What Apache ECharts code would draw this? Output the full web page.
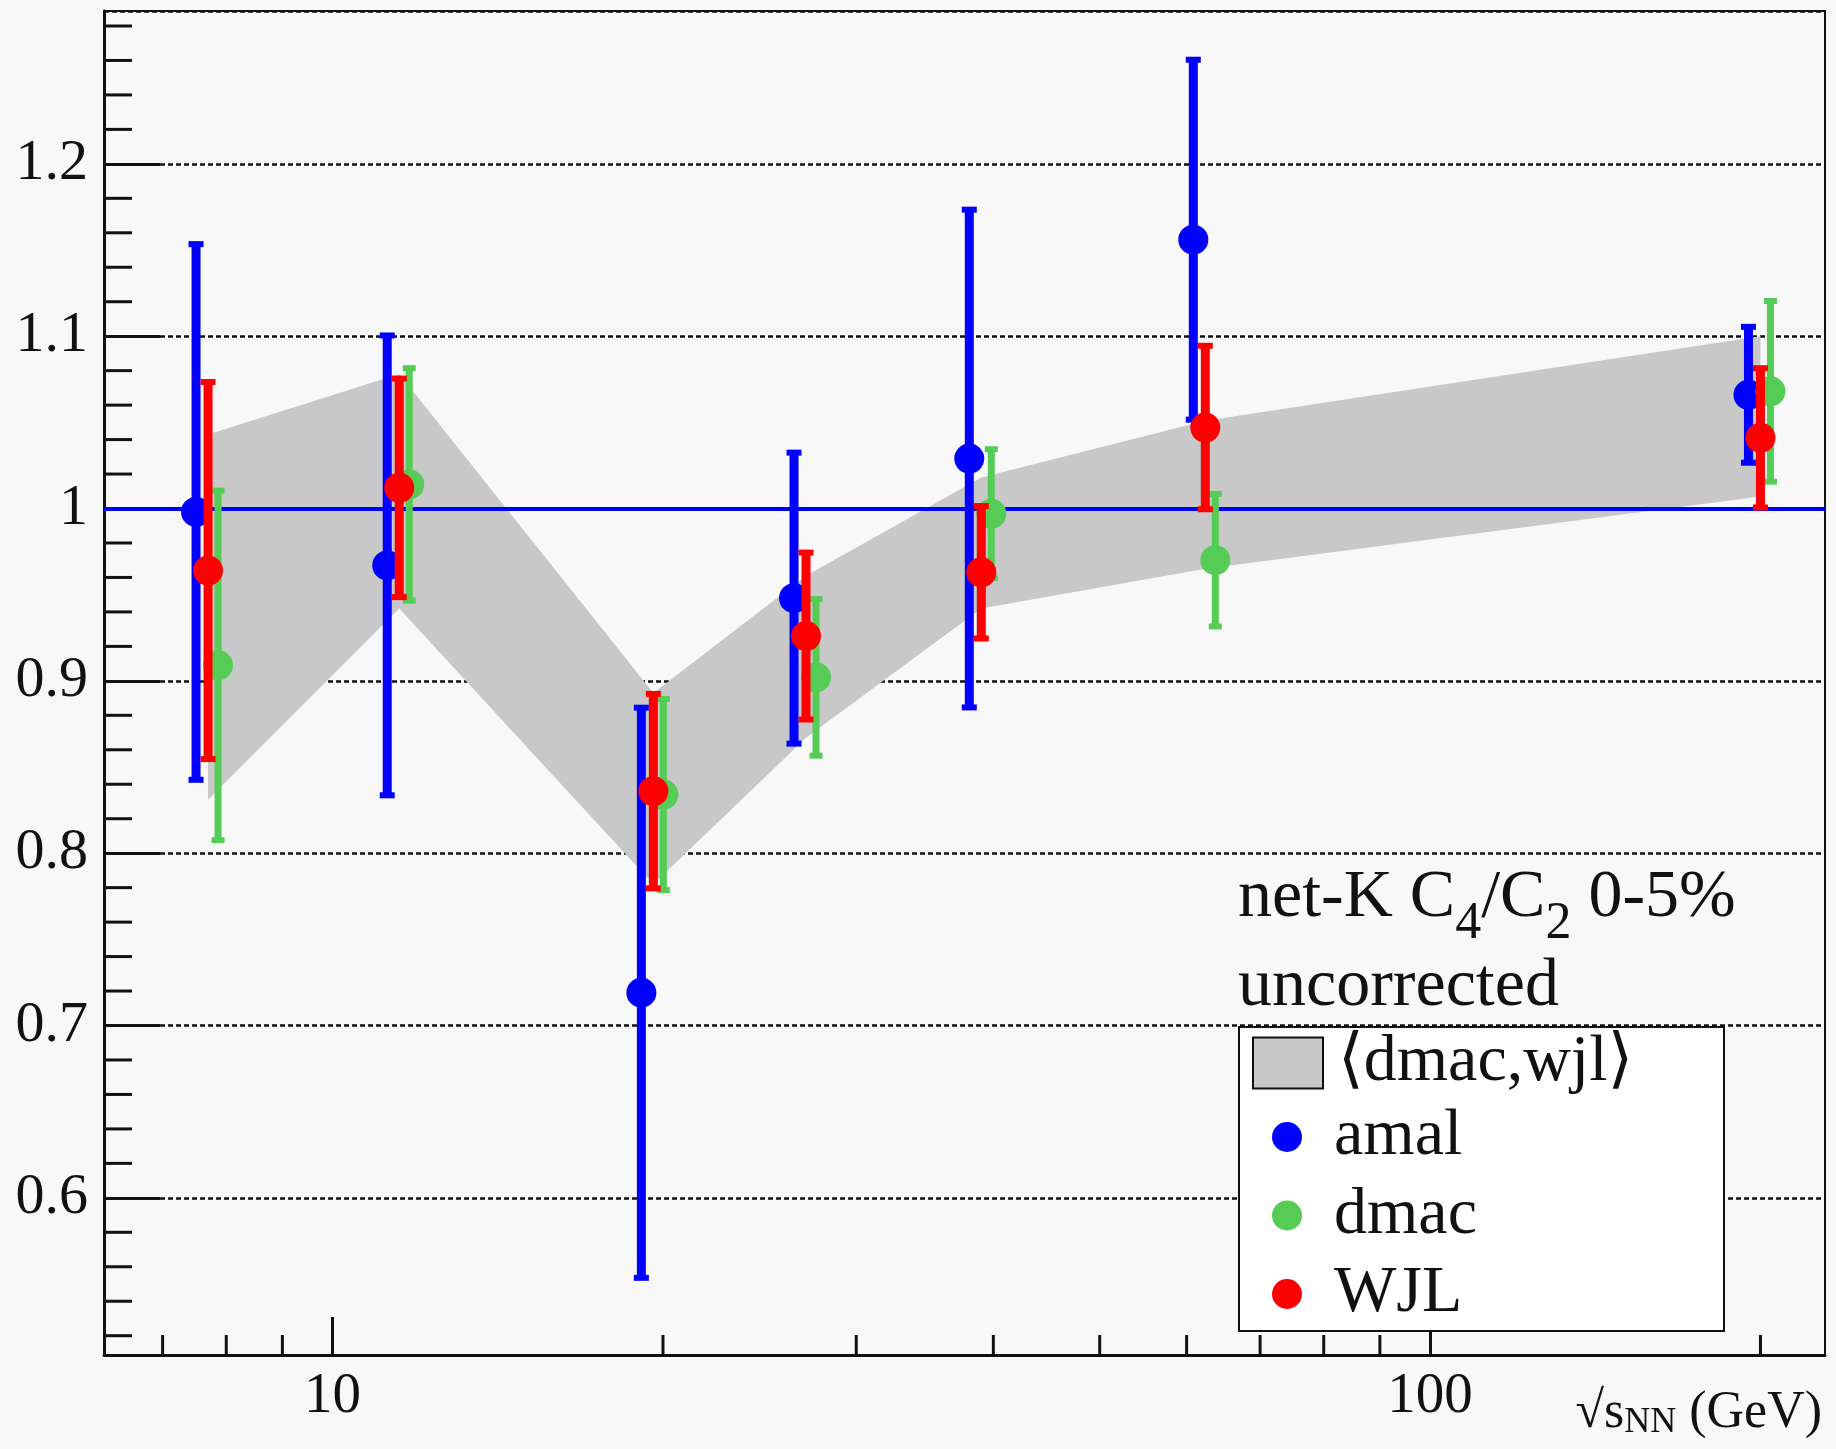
<!DOCTYPE html>
<html>
<head>
<meta charset="utf-8">
<title>net-K C4/C2 0-5%</title>
<script src="https://cdn.jsdelivr.net/npm/echarts@6/dist/echarts.min.js"></script>
<style>
  html, body { margin: 0; padding: 0; background: #f8f8f8; }
  #main { width: 1836px; height: 1449px; }
</style>
</head>
<body>
<div id="main"></div>
<script>
// beam energies, sqrt(s_NN) in GeV
var energies = [7.7, 11.5, 19.6, 27, 39, 62.4, 200];

// C4/C2 per analysis, symmetric errors
var amal    = [0.998, 0.967, 0.719, 0.948, 1.029, 1.156, 1.066];
var amalErr = [0.156, 0.134, 0.166, 0.085, 0.145, 0.105, 0.040];
var dmac    = [0.909, 1.014, 0.834, 0.902, 0.997, 0.970, 1.068];
var dmacErr = [0.102, 0.068, 0.056, 0.046, 0.038, 0.039, 0.053];
var wjl     = [0.964, 1.012, 0.836, 0.926, 0.963, 1.047, 1.041];
var wjlErr  = [0.110, 0.064, 0.057, 0.049, 0.039, 0.048, 0.041];

// <dmac,wjl> band edges
var bandUpper = [1.043, 1.078, 0.893, 0.961, 1.018, 1.051, 1.100];
var bandLower = [0.831, 0.942, 0.782, 0.867, 0.942, 0.965, 1.007];

// minor ticks (majors come from the axes)
var xMinorTicks = [7, 8, 9, 20, 30, 40, 50, 60, 70, 80, 90, 200];
var yMinorTicks = [];
for (var t = 52; t <= 128; t += 2) {
    if (t % 10 !== 0) yMinorTicks.push(t / 100);
}

var FONT = "'Liberation Serif', 'DejaVu Serif', serif";
var X_MIN = 6.19, X_MAX = 229;
var Y_MIN = 0.5088, Y_MAX = 1.2887;

var chart = echarts.init(document.getElementById('main'));

// vertical error bar with small end caps, shifted sideways by a few px
function errorBars(vals, errs, color, width, shift, z) {
    return {
        type: 'custom', z: z, silent: true,
        data: energies.map(function (e, i) { return [e, vals[i], vals[i] - errs[i], vals[i] + errs[i]]; }),
        encode: { x: 0, y: 1 },
        renderItem: function (params, api) {
            var lo = api.coord([api.value(0), api.value(2)]);
            var hi = api.coord([api.value(0), api.value(3)]);
            var x = lo[0] + shift;
            var capW = width + 6;
            return {
                type: 'group',
                children: [
                    { type: 'rect', shape: { x: x - width / 2, y: hi[1], width: width, height: lo[1] - hi[1] }, style: { fill: color } },
                    { type: 'rect', shape: { x: x - capW / 2, y: hi[1] - 2, width: capW, height: 6 }, style: { fill: color } },
                    { type: 'rect', shape: { x: x - capW / 2, y: lo[1] - 4, width: capW, height: 6 }, style: { fill: color } }
                ]
            };
        }
    };
}

function points(name, vals, color, shift, z) {
    return {
        name: name, type: 'scatter', z: z,
        data: energies.map(function (e, i) { return [e, vals[i]]; }),
        symbol: 'circle', symbolSize: 30, symbolOffset: [shift, 0],
        itemStyle: { color: color, opacity: 1 },
        emphasis: { disabled: true }
    };
}

function ticks(data, horizontal, len) {
    return {
        type: 'custom', z: 20, silent: true,
        data: data,
        renderItem: function (params, api) {
            var p = api.coord([api.value(0), api.value(1)]);
            return {
                type: 'line',
                shape: { x1: p[0], y1: p[1], x2: horizontal ? p[0] + len : p[0], y2: horizontal ? p[1] : p[1] - len },
                style: { stroke: '#111', lineWidth: 3 }
            };
        }
    };
}

var legendText = { fontFamily: FONT, fontSize: 66, color: '#111', lineHeight: 50 };

chart.setOption({
    animation: false,
    backgroundColor: '#f8f8f8',
    grid: { left: 104, right: 11, top: 11, bottom: 94, show: true, borderColor: '#111', borderWidth: 2 },
    xAxis: {
        type: 'log', logBase: 10, min: X_MIN, max: X_MAX,
        axisLine: { onZero: false, lineStyle: { color: '#111', width: 3 } },
        axisTick: { inside: true, length: 38, lineStyle: { color: '#111', width: 3 } },
        axisLabel: { color: '#111', fontFamily: FONT, fontSize: 57, margin: 14, showMinLabel: false, showMaxLabel: false },
        splitLine: { show: false }
    },
    yAxis: {
        type: 'value', min: Y_MIN, max: Y_MAX, splitNumber: 8,
        axisLine: { show: true, lineStyle: { color: '#111', width: 3 } },
        axisTick: { show: true, inside: true, length: 56, lineStyle: { color: '#111', width: 3 } },
        axisLabel: {
            color: '#111', fontFamily: FONT, fontSize: 58, margin: 16, showMinLabel: false, showMaxLabel: false,
            formatter: function (v) { return Math.abs(v - 1) < 1e-6 ? '1' : v.toFixed(1); }
        },
        splitLine: { show: true, lineStyle: { color: '#111', width: 2.5, type: [5, 3] } }
    },
    legend: [
        {
            data: [{ name: '⟨dmac,wjl⟩', icon: 'rect', itemStyle: { color: '#c8c8c8', borderColor: '#111', borderWidth: 2 } }],
            left: 1252, top: 1030, padding: 0, itemWidth: 70, itemHeight: 51, selectedMode: false, z: 60,
            textStyle: Object.assign({}, legendText, { padding: [0, 0, 16, 10] })
        },
        {
            data: [{ name: 'amal', icon: 'circle' }, { name: 'dmac', icon: 'circle' }, { name: 'WJL', icon: 'circle' }],
            orient: 'vertical', left: 1272, top: 1104, padding: 0, itemWidth: 80, itemHeight: 30, itemGap: 12.5,
            selectedMode: false, z: 60,
            textStyle: Object.assign({}, legendText, { padding: [0, 0, 14, 2] })
        }
    ],
    graphic: [
        {
            type: 'rect', z: 50, silent: true,
            shape: { x: 1239, y: 1027, width: 485, height: 304 },
            style: { fill: '#ffffff', stroke: '#111', lineWidth: 2 }
        },
        {
            // subscripts pushed down with top padding
            type: 'text', z: 50, x: 1238, y: 864, silent: true,
            style: {
                text: '{m|net-K C}{s|4}{m|/C}{s|2}{m| 0-5%}',
                verticalAlign: 'top', fill: '#111',
                rich: {
                    m: { fontFamily: FONT, fontSize: 68, verticalAlign: 'top', fill: '#111' },
                    s: { fontFamily: FONT, fontSize: 52, verticalAlign: 'top', padding: [34, 0, 0, 0], fill: '#111' }
                }
            }
        },
        {
            type: 'text', z: 50, x: 1238, y: 987, silent: true,
            style: { text: 'uncorrected', font: '68px ' + FONT, fill: '#111', verticalAlign: 'middle' }
        },
        {
            type: 'text', z: 50, x: 1822, y: 1387, silent: true,
            style: {
                text: '{m|√s}{s|NN}{m| (GeV)}',
                align: 'right', verticalAlign: 'top', fill: '#111',
                rich: {
                    m: { fontFamily: FONT, fontSize: 52, verticalAlign: 'top', fill: '#111' },
                    s: { fontFamily: FONT, fontSize: 36, verticalAlign: 'top', padding: [18, 0, 0, 0], fill: '#111' }
                }
            }
        }
    ],
    series: [
        {
            name: '⟨dmac,wjl⟩', type: 'custom', z: 1, silent: true,
            data: [[energies[0], bandUpper[0]]],
            itemStyle: { color: '#c8c8c8' },
            renderItem: function (params, api) {
                var pts = [];
                for (var i = 0; i < energies.length; i++) pts.push(api.coord([energies[i], bandUpper[i]]));
                for (var j = energies.length - 1; j >= 0; j--) pts.push(api.coord([energies[j], bandLower[j]]));
                return { type: 'polygon', shape: { points: pts }, style: { fill: '#c8c8c8' } };
            }
        },
        {
            name: 'unity', type: 'line', z: 2, data: [],
            markLine: {
                silent: true, symbol: 'none', label: { show: false },
                lineStyle: { color: '#0000ff', width: 4, type: 'solid' },
                data: [{ yAxis: 1 }]
            }
        },
        errorBars(amal, amalErr, '#0000ff', 9, -12, 3),
        points('amal', amal, '#0000ff', -12, 4),
        errorBars(dmac, dmacErr, '#55cc55', 7, 10, 5),
        points('dmac', dmac, '#55cc55', 10, 6),
        errorBars(wjl, wjlErr, '#ff0000', 9, 0, 7),
        points('WJL', wjl, '#ff0000', 0, 8),
        ticks(xMinorTicks.map(function (v) { return [v, Y_MIN]; }), false, 20),
        ticks(yMinorTicks.map(function (v) { return [X_MIN, v]; }), true, 28)
    ]
});
</script>
</body>
</html>
